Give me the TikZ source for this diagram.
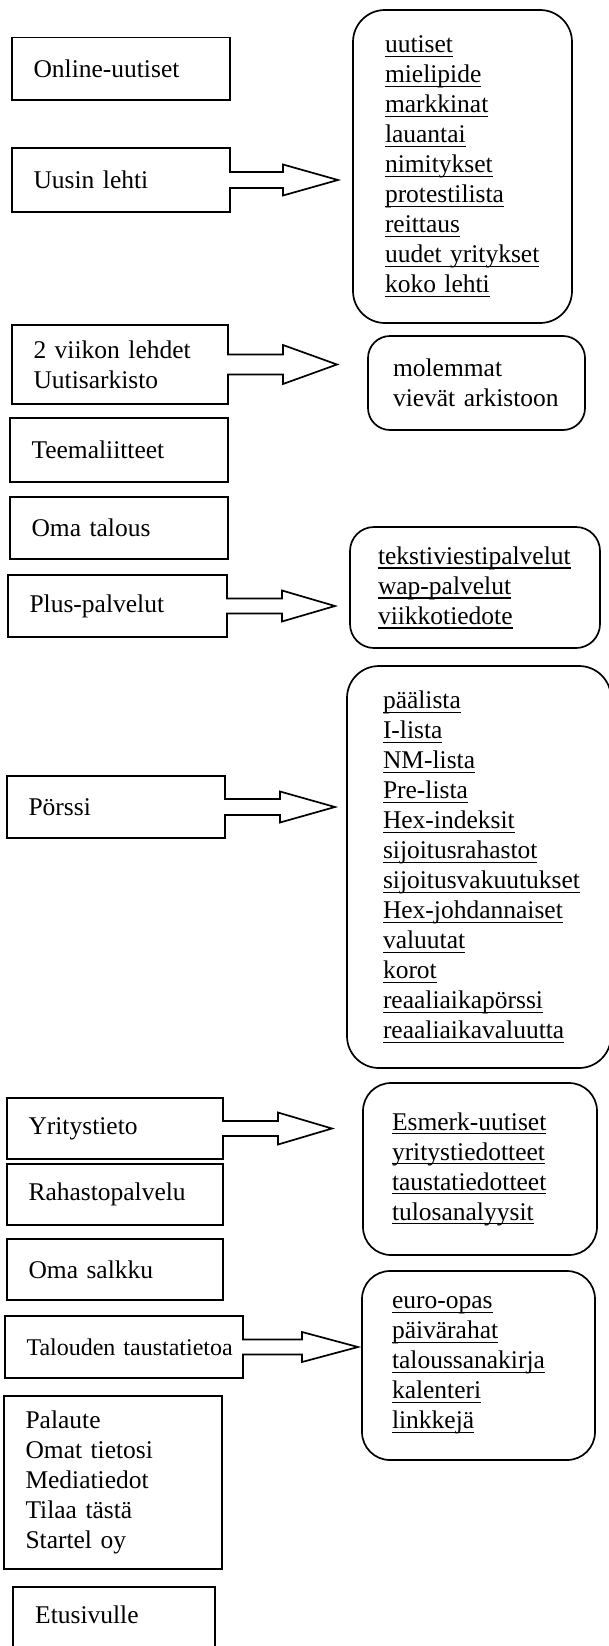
\documentclass[tikz,border=0pt]{standalone}
\usepackage{fontspec}
\setmainfont{Liberation Serif}
\usetikzlibrary{calc}
\newcommand\lfnt{\fontsize{25.5}{30}\selectfont}
\newcommand\sfnt{\fontsize{24}{28}\selectfont}
\newcommand\ulw[1]{\leavevmode\setbox0=\hbox{#1}\rlap{\vrule height -2.8pt depth 4.3pt width \wd0}\box0}
\tikzset{
 ln/.style={line width=1.7pt},
 lbox/.style={ln, draw, anchor=north west, inner xsep=21.5pt, inner ysep=0pt, outer sep=0pt, align=left, font=\lfnt},
 abox/.style={lbox, draw=none},
 rbox/.style={ln, draw, rounded corners=26pt, anchor=north west, inner ysep=0pt, outer sep=0pt, align=left, font=\lfnt},
}
% #1 left box, #2 target box, #3 shaft half height, #4 head half height, #5 shaft length, #6 gap before target
\newcommand\barrow[6]{%
\draw[ln] let \p1=(#1.east), \p2=(#2.west) in
 (#1.north west) -- (#1.north east) -- (\x1,\y1+#3pt) -- (\x1+#5pt,\y1+#3pt)
 -- (\x1+#5pt,\y1+#4pt) -- (\x2-#6pt,\y1) -- (\x1+#5pt,\y1-#4pt)
 -- (\x1+#5pt,\y1-#3pt) -- (\x1,\y1-#3pt) -- (#1.south east) -- (#1.south west) -- cycle;}
\begin{document}
\begin{tikzpicture}[x=1pt,y=-1pt]
\fill[white] (0,0) rectangle (609,1646);
\path[use as bounding box] (0,0) rectangle (609,1646);
\clip (0,0) rectangle (609,1646);

% left column
\node[lbox, text width=175pt, minimum height=62.5pt] (online) at (12,37.5) {Online-uutiset};
\node[abox, text width=175pt, minimum height=64pt] (uusin) at (12,148) {Uusin lehti};
\node[abox, text width=173pt, minimum height=79pt] (viikon) at (12,325) {2 viikon lehdet\\Uutisarkisto};
\node[lbox, text width=175pt, minimum height=64pt] (teema) at (10,418) {Teemaliitteet};
\node[lbox, text width=175pt, minimum height=62pt] (omatal) at (10,497) {Oma talous};
\node[abox, text width=176pt, minimum height=62pt] (plus) at (8,575) {Plus-palvelut};
\node[abox, text width=175pt, minimum height=62pt] (porssi) at (7,776) {Pörssi};
\node[abox, text width=173pt, minimum height=61pt] (yrit) at (7,1098) {Yritystieto};
\node[lbox, text width=173pt, minimum height=61pt] (rahasto) at (7,1164) {Rahastopalvelu};
\node[lbox, text width=173pt, minimum height=61pt] (salkku) at (7,1239) {Oma salkku};
\node[abox, text width=195pt, minimum height=62pt, font=\sfnt] (talous) at (5,1316) {\mbox{Talouden taustatietoa}};
\node[lbox, text width=175pt, minimum height=173pt] (palaute) at (4,1396) {Palaute\\Omat tietosi\\Mediatiedot\\Tilaa tästä\\Startel oy};
\node[lbox, text width=159pt, minimum height=80pt] (etus) at (13,1587) {};
\node[anchor=west, font=\lfnt, inner sep=0pt] (etustext) at (35,1615) {Etusivulle};

% right column
\node[rbox, rounded corners=32pt, inner xsep=32pt, text width=155pt, minimum height=313pt] (lehti) at (353,10)
 {\ulw{uutiset}\\\ulw{mielipide}\\\ulw{markkinat}\\\ulw{lauantai}\\\ulw{nimitykset}\\\ulw{protestilista}\\\ulw{reittaus}\\\ulw{uudet yritykset}\\\ulw{koko lehti}};
\node[rbox, rounded corners=22pt, inner xsep=25pt, text width=167pt, minimum height=94pt] (arkisto) at (368,336)
 {molemmat\\vievät arkistoon};
\node[rbox, rounded corners=24pt, inner xsep=28pt, text width=194pt, minimum height=121pt] (pluslist) at (350,527)
 {\ulw{tekstiviestipalvelut}\\\ulw{wap-palvelut}\\\ulw{viikkotiedote}};
\node[rbox, rounded corners=32pt, inner xsep=36pt, text width=192pt, minimum height=402pt] (porssilist) at (347,666)
 {\ulw{päälista}\\\ulw{I-lista}\\\ulw{NM-lista}\\\ulw{Pre-lista}\\\ulw{Hex-indeksit}\\\ulw{sijoitusrahastot}\\\ulw{sijoitusvakuutukset}\\\ulw{Hex-johdannaiset}\\\ulw{valuutat}\\\ulw{korot}\\\ulw{reaaliaikapörssi}\\\ulw{reaaliaikavaluutta}};
\node[rbox, rounded corners=28pt, inner xsep=29pt, text width=176pt, minimum height=172pt] (yritlist) at (363,1083)
 {\ulw{Esmerk-uutiset}\\\ulw{yritystiedotteet}\\\ulw{taustatiedotteet}\\\ulw{tulosanalyysit}};
\node[rbox, rounded corners=28pt, inner xsep=30pt, text width=173pt, minimum height=189pt] (taloulist) at (362,1271)
 {\ulw{euro-opas}\\\ulw{päivärahat}\\\ulw{taloussanakirja}\\\ulw{kalenteri}\\\ulw{linkkejä}};

% block arrows
\barrow{uusin}{lehti}{8}{15.5}{53}{15}
\barrow{viikon}{arkisto}{10}{19.5}{55}{31}
\barrow{plus}{pluslist}{7.5}{15.5}{55}{15}
\barrow{porssi}{porssilist}{8}{15.5}{55}{12}
\barrow{yrit}{yritlist}{7.5}{16}{55}{31}
\barrow{talous}{taloulist}{7.5}{15}{59}{4}
\end{tikzpicture}
\end{document}
